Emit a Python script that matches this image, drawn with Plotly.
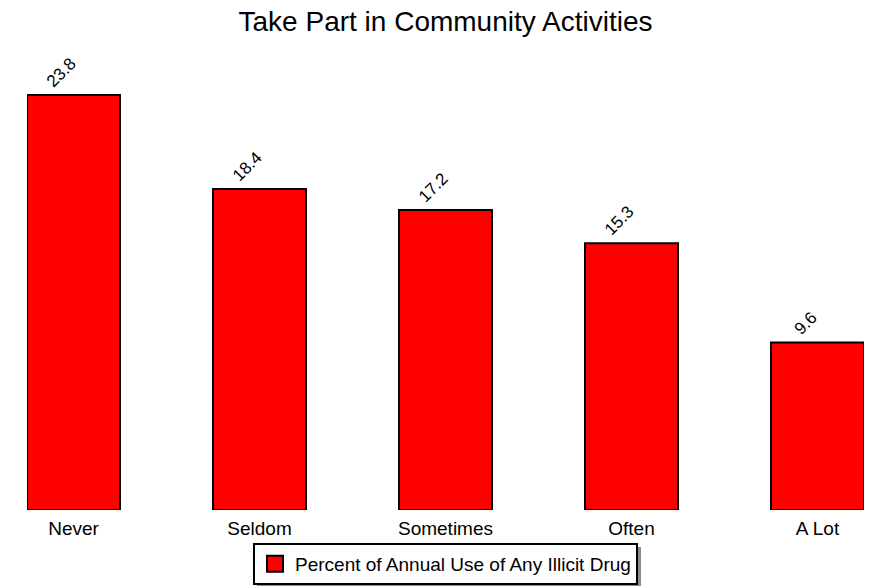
import plotly.graph_objects as go

categories = ["Never", "Seldom", "Sometimes", "Often", "A Lot"]
values = [23.8, 18.4, 17.2, 15.3, 9.6]
series_name = "Percent of Annual Use of Any Illicit Drug"
title = "Take Part in Community Activities"

FONT = "Arial, Liberation Sans, sans-serif"
RED = "#ff0000"

W, H = 872, 588
L, R, T, B = 27, 8, 74, 78
PW, PH = W - L - R, H - T - B


def px(x):
    return (x - L) / PW


def py(y):
    return (H - B - y) / PH


fig = go.Figure()
fig.add_trace(go.Bar(
    x=categories, y=values, name=series_name,
    marker=dict(color=RED, line=dict(color="black", width=2)),
    showlegend=False,
))
# legend entry with a larger swatch
fig.add_trace(go.Scatter(
    x=[None], y=[None], mode="markers", name=series_name,
    marker=dict(symbol="square", size=17, color=RED, line=dict(color="black", width=2)),
    showlegend=True,
))

for c, v in zip(categories, values):
    fig.add_annotation(x=c, y=v, text=f"{v}", textangle=-45, showarrow=False,
                       xanchor="center", yanchor="bottom", xshift=-12, yshift=1,
                       font=dict(family=FONT, size=17, color="black"))

LEG_TOP = 543
# legend shadow
fig.add_shape(type="rect", xref="paper", yref="paper",
              x0=px(257), x1=px(641), y0=py(LEG_TOP + 43), y1=py(LEG_TOP + 4),
              fillcolor="#8c8c8c", line=dict(width=0), layer="below")

fig.update_layout(
    width=W, height=H,
    margin=dict(l=L, r=R, t=T, b=B, pad=0, autoexpand=False),
    paper_bgcolor="white", plot_bgcolor="white",
    title=dict(text=title, x=0.5, xref="paper", xanchor="center",
               y=1 - 21 / H, yanchor="middle",
               font=dict(family=FONT, size=28, color="black")),
    font=dict(family=FONT, size=19, color="black"),
    bargap=0.5,
    xaxis=dict(range=[-0.25, 4.25], showgrid=False, zeroline=False, showline=False,
               ticks="", tickfont=dict(size=19), ticklabelstandoff=5, automargin=False),
    yaxis=dict(range=[0, 25], visible=False, showgrid=False, zeroline=False, automargin=False),
    legend=dict(orientation="h", x=0.5, xanchor="center", y=py(LEG_TOP),
                yanchor="top", bordercolor="black", borderwidth=2, bgcolor="white",
                font=dict(size=19), itemwidth=30, tracegroupgap=0),
)

fig.write_html("out.html", config={"displayModeBar": False},
               post_script="document.body.style.margin='0';document.body.style.overflow='hidden';")
